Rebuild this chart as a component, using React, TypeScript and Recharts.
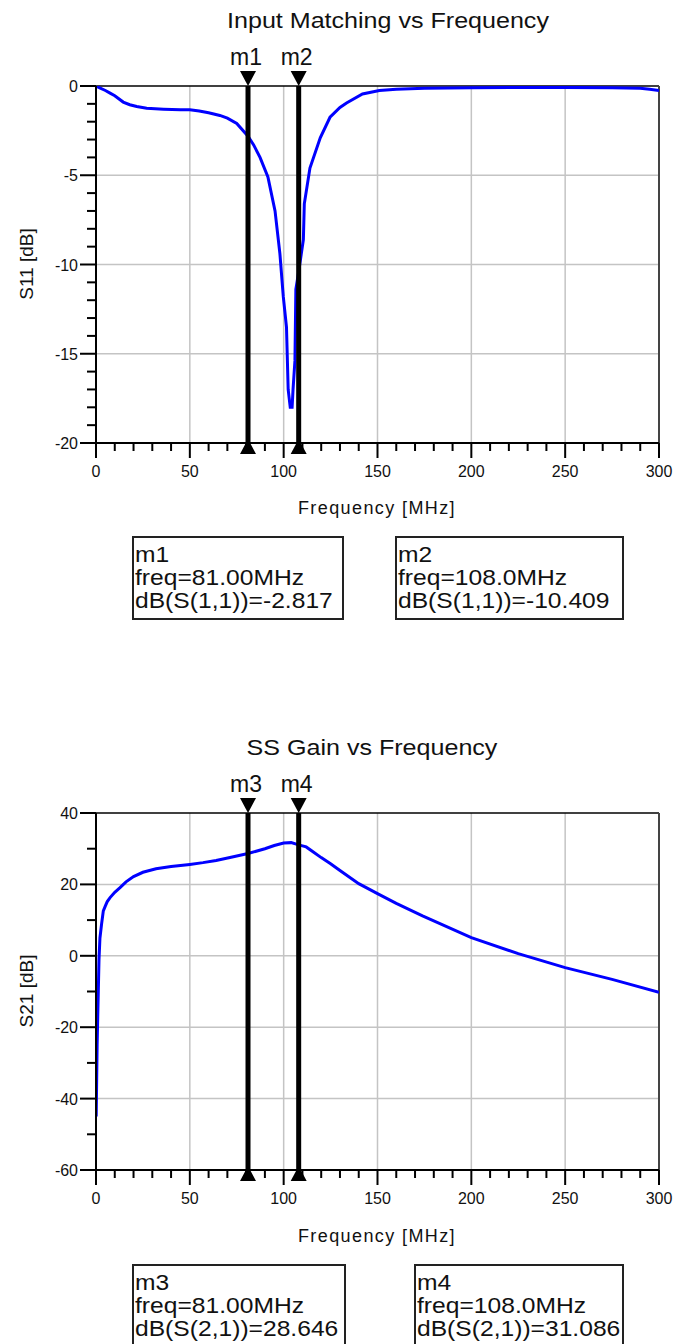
import React from 'react';
import { LineChart, Line, XAxis, YAxis, CartesianGrid, ReferenceLine } from 'recharts';

const FONT = '"Liberation Sans", Arial, sans-serif';

// ---- data ----
const s11Freq = [0, 2, 5, 7.5, 10, 14.5, 18, 21.7, 27, 36, 45, 50, 55, 60, 66, 70, 75, 81, 84, 87.4, 91.6, 95.4, 98, 99.8, 101.5, 102.4, 103.5, 104.5, 105, 106, 106.5, 108, 110.5, 111, 114, 119.5, 124.7, 130, 133.5, 142, 151, 160, 175, 200, 225, 250, 275, 290, 295, 300];
const s11Db = [0, -0.1, -0.25, -0.4, -0.55, -0.9, -1.05, -1.15, -1.25, -1.3, -1.33, -1.33, -1.4, -1.5, -1.65, -1.8, -2.1, -2.817, -3.3, -4.0, -5.1, -7.0, -9.4, -11.8, -13.5, -17, -18, -18, -17, -15.4, -11.4, -10.409, -8.6, -6.6, -4.6, -2.9, -1.75, -1.2, -0.95, -0.45, -0.25, -0.18, -0.12, -0.1, -0.08, -0.08, -0.1, -0.12, -0.18, -0.25];

const s21Freq = [0.1, 0.6, 1.2, 1.6, 2.1, 3, 3.9, 5, 6, 7.5, 10, 12.8, 16, 20, 25, 32, 40, 50, 57, 64, 72, 81, 90, 95, 100, 104, 108, 112, 116, 120, 125, 130, 140, 150, 160, 174, 200, 225, 250, 275, 300];
const s21Db = [-45, -25, -10.5, -1, 5, 9, 12.6, 14, 15.2, 16.3, 17.8, 19.1, 20.7, 22.2, 23.4, 24.4, 25, 25.6, 26.1, 26.7, 27.6, 28.646, 30, 30.9, 31.6, 31.7, 31.086, 30.5, 29, 27.5, 25.8, 23.9, 20.2, 17.4, 14.7, 11.2, 5.1, 0.6, -3.3, -6.6, -10.2];

const xTicks = [0, 10, 20, 30, 40, 50, 60, 70, 80, 90, 100, 110, 120, 130, 140, 150, 160, 170, 180, 190, 200, 210, 220, 230, 240, 250, 260, 270, 280, 290, 300];
const xGrid = [50, 100, 150, 200, 250];
const s11Ticks = [-20, -19, -18, -17, -16, -15, -14, -13, -12, -11, -10, -9, -8, -7, -6, -5, -4, -3, -2, -1, 0];
const s11Grid = [-5, -10, -15];
const s21Ticks = [-60, -50, -40, -30, -20, -10, 0, 10, 20, 30, 40];
const s21Grid = [20, 0, -20, -40];

const markersTop = [{ name: 'm1', f: 81 }, { name: 'm2', f: 108 }];
const markersBottom = [{ name: 'm3', f: 81 }, { name: 'm4', f: 108 }];

const boxesTop = [
  { lines: ['m1', 'freq=81.00MHz', 'dB(S(1,1))=-2.817'] },
  { lines: ['m2', 'freq=108.0MHz', 'dB(S(1,1))=-10.409'] },
];
const boxesBottom = [
  { lines: ['m3', 'freq=81.00MHz', 'dB(S(2,1))=28.646'] },
  { lines: ['m4', 'freq=108.0MHz', 'dB(S(2,1))=31.086'] },
];

const s11Data = s11Freq.map((f, i) => ({ f, v: s11Db[i] }));
const s21Data = s21Freq.map((f, i) => ({ f, v: s21Db[i] }));

// ---- custom renderers ----
const XTick = (props: any) => {
  const { x, y, payload } = props;
  const v = payload.value;
  const major = v % 50 === 0;
  return (
    <g>
      <line x1={x} x2={x} y1={y} y2={y + (major ? 15 : 8)} stroke="#000" strokeWidth={2} />
      {major && (
        <text x={x} y={y + 34} textAnchor="middle" fontSize={16} fontFamily={FONT} fill="#111">
          {v}
        </text>
      )}
    </g>
  );
};

const makeYTick = (step: number) => (props: any) => {
  const { x, y, payload } = props;
  const v = payload.value;
  const major = v % step === 0;
  return (
    <g>
      <line x1={x - (major ? 16 : 9)} x2={x} y1={y} y2={y} stroke="#000" strokeWidth={2} />
      {major && (
        <text x={x - 18} y={y + 6} textAnchor="end" fontSize={16} fontFamily={FONT} fill="#111">
          {v}
        </text>
      )}
    </g>
  );
};

const MarkerDeco = (props: any) => {
  const vb = props.viewBox || {};
  const x = vb.x;
  const top = vb.y;
  const bottom = vb.y + vb.height;
  return (
    <g>
      <polygon points={`${x - 8},${top - 15} ${x + 8},${top - 15} ${x},${top}`} fill="#000" />
      <polygon points={`${x},${bottom - 4} ${x - 8},${bottom + 11} ${x + 8},${bottom + 11}`} fill="#000" />
      <text x={x - 2} y={top - 21} textAnchor="middle" fontSize={23} fontFamily={FONT} fill="#111">
        {props.name}
      </text>
    </g>
  );
};

type ChartProps = {
  data: { f: number; v: number }[];
  domain: [number, number];
  yTicks: number[];
  yGrid: number[];
  yStep: number;
  markers: { name: string; f: number }[];
};

const Chart = ({ data, domain, yTicks, yGrid, yStep, markers }: ChartProps) => (
  <LineChart width={676} height={520} data={data} margin={{ top: 86, right: 17, bottom: 76, left: 95 }}>
    <CartesianGrid
      stroke="#c4c4c4"
      strokeWidth={1.5}
      horizontalValues={yGrid}
      verticalValues={xGrid}
    />
    <XAxis
      type="number"
      dataKey="f"
      domain={[0, 300]}
      ticks={xTicks}
      interval={0}
      height={1}
      tickSize={0}
      tickMargin={0}
      tickLine={false}
      axisLine={{ stroke: '#000', strokeWidth: 2 }}
      tick={XTick}
      allowDataOverflow
    />
    <YAxis
      type="number"
      domain={domain}
      ticks={yTicks}
      interval={0}
      width={1}
      tickSize={0}
      tickMargin={0}
      tickLine={false}
      axisLine={{ stroke: '#000', strokeWidth: 2 }}
      tick={makeYTick(yStep)}
      allowDataOverflow
    />
    <ReferenceLine y={domain[1]} stroke="#000" strokeWidth={1.5} />
    <ReferenceLine x={300} stroke="#444" strokeWidth={2} />
    <Line
      type="linear"
      dataKey="v"
      stroke="#0000ff"
      strokeWidth={3}
      dot={false}
      activeDot={false}
      isAnimationActive={false}
    />
    {markers.map((m) => (
      <ReferenceLine
        key={m.name}
        x={m.f}
        stroke="#000"
        strokeWidth={5}
        label={<MarkerDeco name={m.name} />}
      />
    ))}
  </LineChart>
);

const Box = ({ x, y, w, h, lines }: { x: number; y: number; w: number; h: number; lines: string[] }) => (
  <g>
    <rect x={x} y={y} width={w} height={h} fill="#fff" stroke="#222" strokeWidth={2} />
    {lines.map((t, i) => (
      <text
        key={i}
        transform={`translate(${x + 2}, ${y + 25 + i * 23}) scale(1.12, 1)`}
        fontSize={22}
        fontFamily={FONT}
        fill="#111"
      >
        {t}
      </text>
    ))}
  </g>
);

export default function App() {
  return (
    <div style={{ position: 'absolute', left: 0, top: 0, width: 676, height: 1344, background: '#fff', overflow: 'hidden' }}>
      <div style={{ position: 'absolute', left: 0, top: 0 }}>
        <Chart data={s11Data} domain={[-20, 0]} yTicks={s11Ticks} yGrid={s11Grid} yStep={5} markers={markersTop} />
      </div>
      <div style={{ position: 'absolute', left: 0, top: 727 }}>
        <Chart data={s21Data} domain={[-60, 40]} yTicks={s21Ticks} yGrid={s21Grid} yStep={20} markers={markersBottom} />
      </div>
      <svg
        width={676}
        height={1344}
        style={{ position: 'absolute', left: 0, top: 0, pointerEvents: 'none' }}
      >
        {/* top chart texts */}
        <text transform="translate(388, 28) scale(1.14, 1)" textAnchor="middle" fontSize={22} fontFamily={FONT} fill="#111">
          Input Matching vs Frequency
        </text>
        <text transform="translate(33, 264) rotate(-90)" textAnchor="middle" fontSize={19} fontFamily={FONT} fill="#111">
          S11 [dB]
        </text>
        <text x={377} y={514} textAnchor="middle" fontSize={18} letterSpacing={1.4} fontFamily={FONT} fill="#111">
          Frequency [MHz]
        </text>
        <Box x={133} y={537} w={210} h={82} lines={boxesTop[0].lines} />
        <Box x={396} y={537} w={227} h={82} lines={boxesTop[1].lines} />

        {/* bottom chart texts */}
        <text transform="translate(372, 755) scale(1.14, 1)" textAnchor="middle" fontSize={22} fontFamily={FONT} fill="#111">
          SS Gain vs Frequency
        </text>
        <text transform="translate(33, 991) rotate(-90)" textAnchor="middle" fontSize={19} fontFamily={FONT} fill="#111">
          S21 [dB]
        </text>
        <text x={377} y={1242} textAnchor="middle" fontSize={18} letterSpacing={1.4} fontFamily={FONT} fill="#111">
          Frequency [MHz]
        </text>
        <Box x={133} y={1265} w={212} h={100} lines={boxesBottom[0].lines} />
        <Box x={415} y={1265} w={208} h={100} lines={boxesBottom[1].lines} />
      </svg>
    </div>
  );
}
